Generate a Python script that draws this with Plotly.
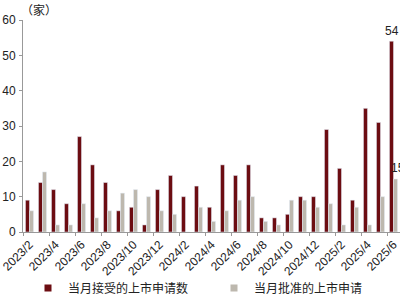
import plotly.graph_objects as go

months = ["2023/2", "2023/3", "2023/4", "2023/5", "2023/6", "2023/7", "2023/8", "2023/9",
          "2023/10", "2023/11", "2023/12", "2024/1", "2024/2", "2024/3", "2024/4", "2024/5",
          "2024/6", "2024/7", "2024/8", "2024/9", "2024/10", "2024/11", "2024/12", "2025/1",
          "2025/2", "2025/3", "2025/4", "2025/5", "2025/6"]
accepted = [9, 14, 12, 8, 27, 19, 14, 6, 7, 2, 12, 16, 10, 13, 7, 19, 16, 19, 4, 4, 5, 10, 10,
            29, 18, 9, 35, 31, 54]
approved = [6, 17, 2, 2, 8, 4, 6, 11, 12, 10, 6, 5, 0, 7, 3, 6, 9, 10, 3, 2, 9, 9, 7, 8, 2, 7,
            2, 10, 15]
name_accepted = "当月接受的上市申请数"
name_approved = "当月批准的上市申请"
y_ticks = [0, 10, 20, 30, 40, 50, 60]

RED = "#6C0D12"
GREY = "#BDB8AE"
FONT = "Liberation Sans, Noto Sans CJK SC, Arial, sans-serif"

idx = list(range(len(months)))

fig = go.Figure()
fig.add_trace(go.Bar(x=idx, y=accepted, name=name_accepted, marker_color=RED,
                     showlegend=False))
fig.add_trace(go.Bar(x=idx, y=approved, name=name_approved, marker_color=GREY,
                     showlegend=False))
# legend entries with small square symbols
fig.add_trace(go.Scatter(x=[None], y=[None], mode="markers", name=name_accepted,
                         marker=dict(symbol="square", size=7, color=RED)))
fig.add_trace(go.Scatter(x=[None], y=[None], mode="markers", name=name_approved,
                         marker=dict(symbol="square", size=7, color=GREY)))

last = len(months) - 1
fig.add_annotation(x=last, y=accepted[last], text=str(accepted[last]), showarrow=False,
                   yanchor="bottom", xshift=-2, yshift=1, font=dict(size=12, color="#222"))
fig.add_annotation(x=last, y=approved[last], text=str(approved[last]), showarrow=False,
                   yanchor="bottom", xanchor="left", xshift=-5, yshift=2,
                   font=dict(size=12, color="#222"))
fig.add_annotation(xref="paper", yref="paper", x=0, y=1, text="（家）", showarrow=False,
                   xanchor="left", yanchor="bottom", xshift=-4, yshift=0,
                   font=dict(size=12, color="#222"))

fig.update_layout(
    width=400, height=300,
    margin=dict(l=23, r=0, t=20, b=68, autoexpand=False),
    paper_bgcolor="white", plot_bgcolor="white",
    barmode="group", bargap=0.38, bargroupgap=0,
    font=dict(family=FONT, size=12, color="#222"),
    legend=dict(orientation="h", x=0.07, y=0.04, xref="container", yref="container",
                xanchor="left", yanchor="middle", font=dict(size=12, color="#222"),
                entrywidth=141, entrywidthmode="pixels", itemwidth=30,
                bgcolor="rgba(0,0,0,0)", borderwidth=0),
)
fig.update_xaxes(
    range=[-0.5, last + 0.5], tickmode="array", tickvals=idx[::2], ticktext=months[::2],
    tickangle=-45, ticks="", showgrid=False, zeroline=False, automargin=False,
    ticklabeloverflow="allow",
    showline=True, linecolor="#999", linewidth=1,
    tickfont=dict(size=12, color="#222"),
    minor=dict(ticks="outside", tick0=1.5, dtick=2, ticklen=3, tickcolor="#999",
               showgrid=False),
)
fig.update_yaxes(
    range=[0, 60], tickmode="array", tickvals=y_ticks, ticks="outside", ticklen=3,
    tickcolor="#999", showgrid=False, zeroline=False, showline=True, linecolor="#999",
    linewidth=1, tickfont=dict(size=12, color="#222"), ticklabelstandoff=1,
    automargin=False,
)

fig.write_html("out.html")
